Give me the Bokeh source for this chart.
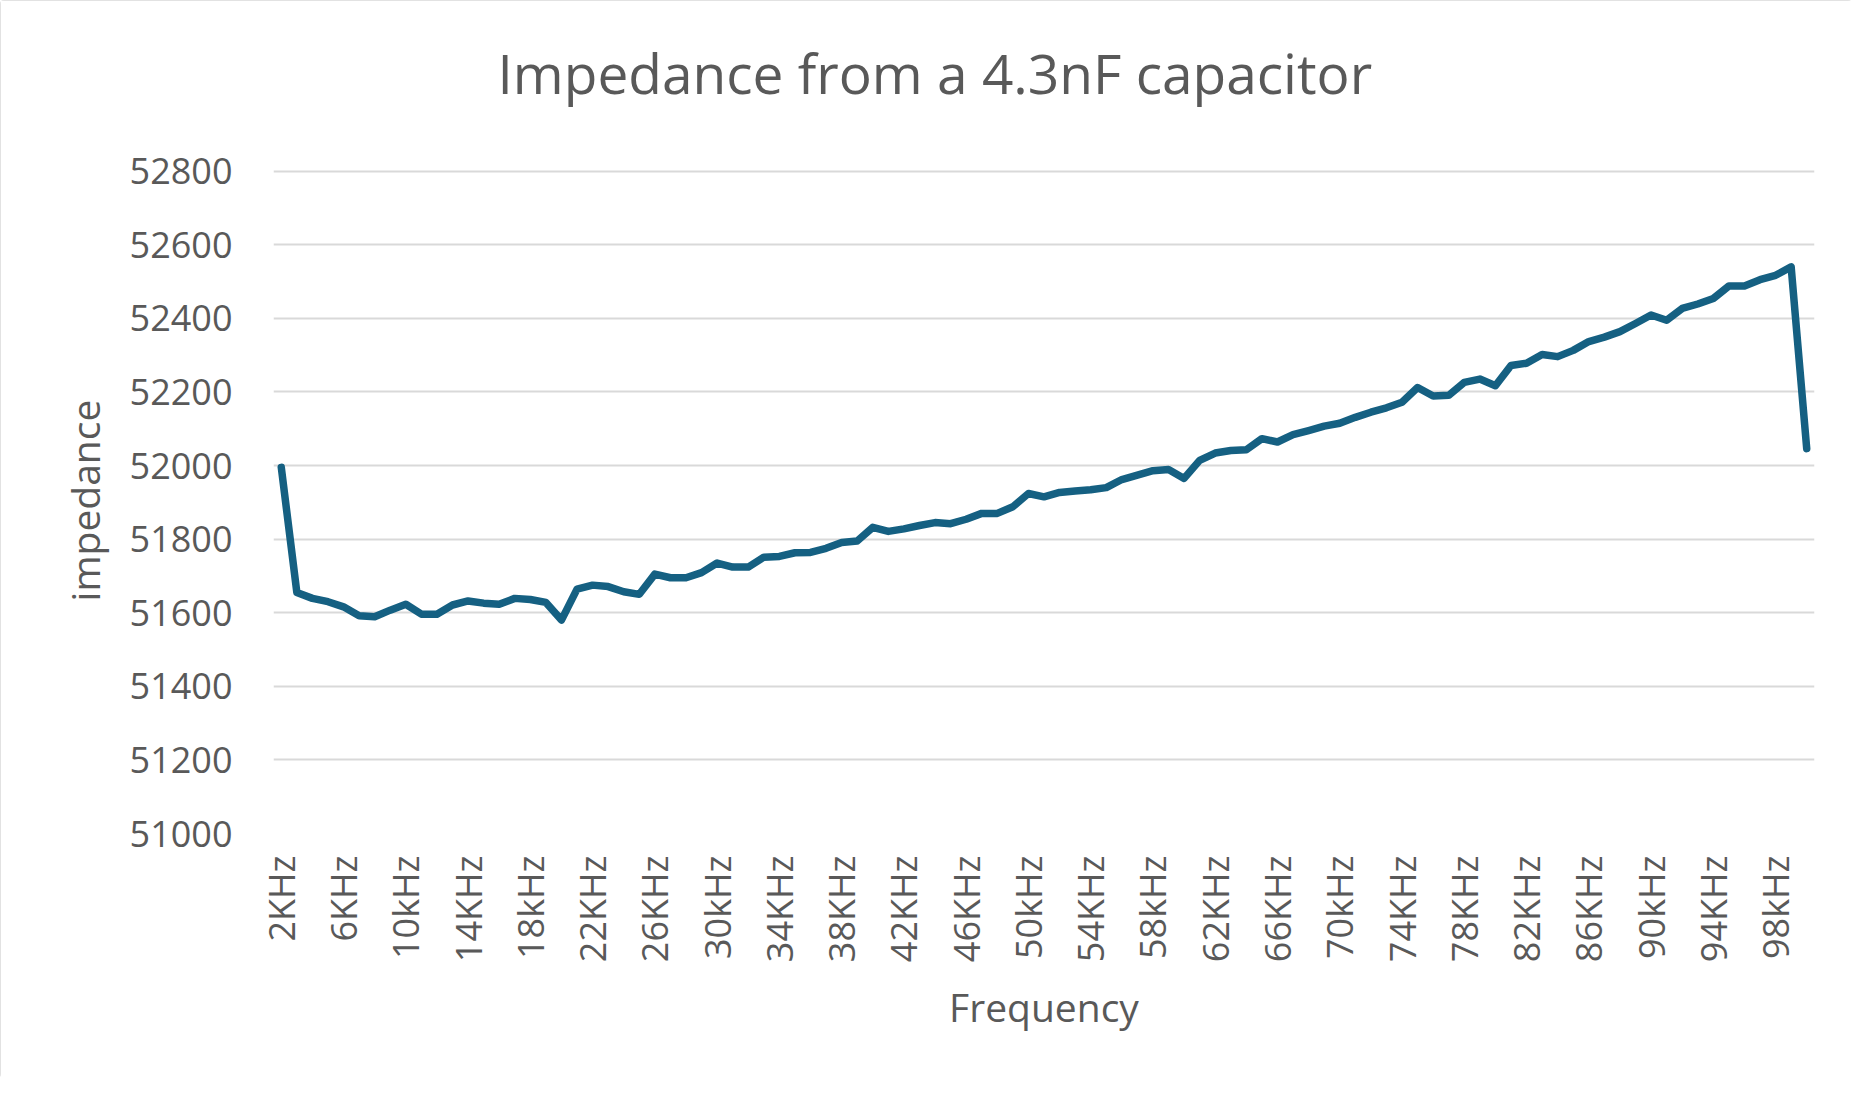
import math

from bokeh.plotting import figure
from bokeh.models import FixedTicker, Range1d, Title
from bokeh.embed import file_html
from bokeh.resources import INLINE

# measured impedance per frequency step (2 kHz .. 100 kHz, 1 kHz apart)
frequency_labels = [
    "2KHz", "3KHz", "4KHz", "5KHz", "6KHz", "7KHz", "8KHz", "9KHz", "10kHz", "11KHz",
    "12KHz", "13KHz", "14KHz", "15KHz", "16KHz", "17KHz", "18kHz", "19KHz", "20kHz", "21KHz",
    "22KHz", "23KHz", "24KHz", "25KHz", "26KHz", "27KHz", "28KHz", "29KHz", "30kHz", "31KHz",
    "32KHz", "33KHz", "34KHz", "35KHz", "36KHz", "37KHz", "38KHz", "39KHz", "40kHz", "41KHz",
    "42KHz", "43KHz", "44KHz", "45KHz", "46KHz", "47KHz", "48KHz", "49KHz", "50kHz", "51KHz",
    "52KHz", "53KHz", "54KHz", "55KHz", "56KHz", "57KHz", "58kHz", "59KHz", "60kHz", "61KHz",
    "62KHz", "63KHz", "64KHz", "65KHz", "66KHz", "67KHz", "68KHz", "69KHz", "70kHz", "71KHz",
    "72KHz", "73KHz", "74KHz", "75KHz", "76KHz", "77KHz", "78KHz", "79KHz", "80kHz", "81KHz",
    "82KHz", "83KHz", "84KHz", "85KHz", "86KHz", "87KHz", "88KHz", "89KHz", "90kHz", "91KHz",
    "92KHz", "93KHz", "94KHz", "95KHz", "96KHz", "97KHz", "98kHz", "99KHz", "100kHz",
]

impedance = [
    51995, 51655, 51639, 51630, 51616, 51592, 51589, 51607, 51623, 51596,
    51596, 51621, 51632, 51626, 51623, 51639, 51636, 51628, 51580, 51664,
    51675, 51671, 51657, 51650, 51705, 51695, 51695, 51709, 51735, 51724,
    51724, 51751, 51753, 51763, 51764, 51775, 51791, 51795, 51832, 51821,
    51828, 51837, 51845, 51842, 51854, 51870, 51870, 51888, 51924, 51915,
    51927, 51931, 51934, 51940, 51962, 51974, 51986, 51989, 51965, 52014,
    52034, 52041, 52043, 52073, 52064, 52084, 52095, 52107, 52115, 52131,
    52145, 52157, 52172, 52212, 52189, 52191, 52226, 52235, 52217, 52272,
    52278, 52302, 52296, 52313, 52337, 52349, 52364, 52386, 52409, 52395,
    52427, 52439, 52454, 52488, 52488, 52505, 52517, 52540, 52046,
]

y_ticks = [51000, 51200, 51400, 51600, 51800, 52000, 52200, 52400, 52600, 52800]

FONT = "Open Sans"
TEXT = "#595959"

idx = list(range(len(frequency_labels)))
shown = idx[::4]

# title sits over the whole chart, not the plot area -> left aligned with an offset
title = Title(text="Impedance from a 4.3nF capacitor", align="left", offset=224,
              vertical_align="bottom", standoff=0, text_font=FONT, text_font_size="55px",
              text_font_style="normal", text_color=TEXT)

# a little headroom above the top tick so its gridline is drawn
p = figure(width=1852, height=1078, output_backend="svg", toolbar_location=None,
           x_range=Range1d(-0.5, len(idx) - 0.5), y_range=Range1d(y_ticks[0], y_ticks[-1] + 10),
           min_border_left=273, min_border_right=38, min_border_top=167, min_border_bottom=245,
           title=title)

# empty spacer between the plot area and the title
p.add_layout(Title(text=" ", text_font_size="1px", standoff=55), "above")

p.line(x=idx, y=impedance, line_color="#156082", line_width=7.5,
       line_join="round", line_cap="round")

p.xaxis.ticker = FixedTicker(ticks=shown)
p.xaxis.major_label_overrides = {i: frequency_labels[i] for i in shown}
p.xaxis.major_label_orientation = math.pi / 2
p.xaxis.major_label_standoff = 16
p.xaxis.axis_label = "Frequency"
p.xaxis.axis_label_standoff = 15

p.yaxis.ticker = FixedTicker(ticks=y_ticks)
p.yaxis.major_label_standoff = 35
p.yaxis.axis_label = "impedance"
p.yaxis.axis_label_standoff = 16

for ax in p.xaxis + p.yaxis:
    ax.axis_line_color = None
    ax.major_tick_line_color = None
    ax.minor_tick_line_color = None
    ax.major_label_text_font = FONT
    ax.major_label_text_font_size = "36px"
    ax.major_label_text_color = TEXT
    ax.axis_label_text_font = FONT
    ax.axis_label_text_font_size = "39px"
    ax.axis_label_text_font_style = "normal"
    ax.axis_label_text_color = TEXT

p.xgrid.visible = False
p.ygrid.grid_line_color = "#d9d9d9"
p.ygrid.grid_line_width = 2
p.outline_line_color = None
p.background_fill_color = "white"
p.border_fill_color = "white"
p.styles = {"outline": "2px solid #d9d9d9", "outline-offset": "-2px", "border-radius": "4px"}

open("out.html", "w").write(file_html(p, INLINE))
